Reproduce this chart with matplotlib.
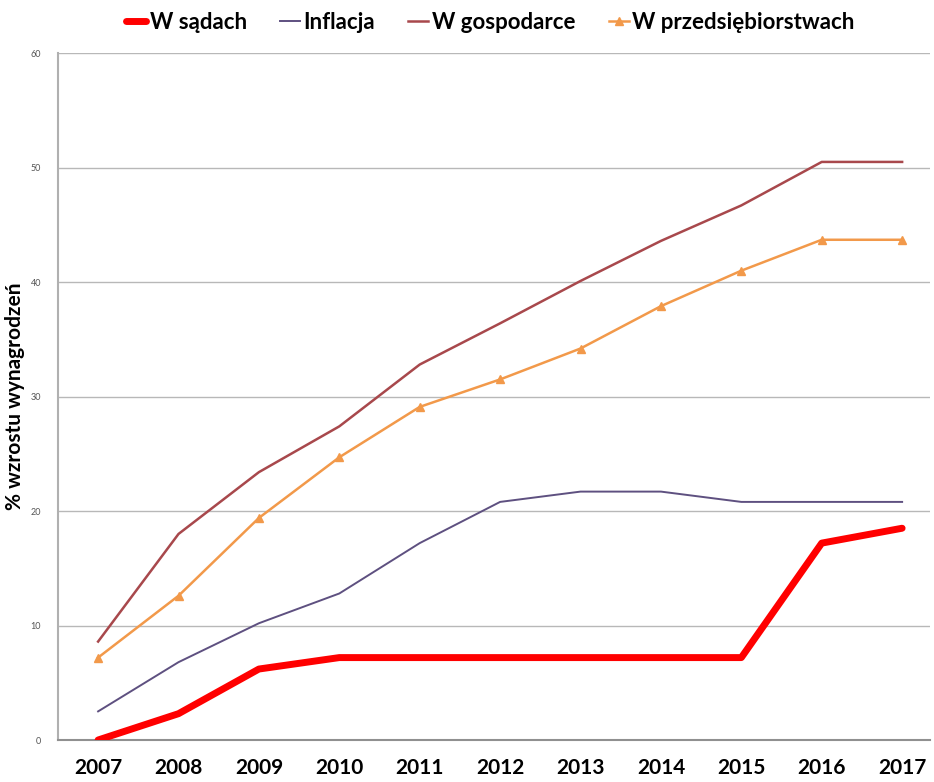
import matplotlib.pyplot as plt

years = [2007, 2008, 2009, 2010, 2011, 2012, 2013, 2014, 2015, 2016, 2017]
sady = [0.0, 2.3, 6.2, 7.2, 7.2, 7.2, 7.2, 7.2, 7.2, 17.2, 18.5]
inflacja = [2.5, 6.8, 10.2, 12.8, 17.2, 20.8, 21.7, 21.7, 20.8, 20.8, 20.8]
gospodarka = [8.6, 18.0, 23.4, 27.4, 32.8, 36.4, 40.1, 43.6, 46.7, 50.5, 50.5]
przedsiebiorstwa = [7.2, 12.6, 19.4, 24.7, 29.1, 31.5, 34.2, 37.9, 41.0, 43.7, 43.7]
yticks = [0, 10, 20, 30, 40, 50, 60]

plt.rcParams['font.family'] = ['Lato', 'DejaVu Sans']

fig = plt.figure(figsize=(9.34, 7.82), dpi=100)
ax = fig.add_axes([0.062, 0.0537, 0.934, 0.8783])

ax.plot(years, sady, color='#ff0000', lw=5, solid_capstyle='round', label='W sądach', zorder=5)
ax.plot(years, inflacja, color='#5e5080', lw=1.4, label='Inflacja', zorder=4)
ax.plot(years, gospodarka, color='#a8484c', lw=1.8, label='W gospodarce', zorder=4)
ax.plot(years, przedsiebiorstwa, color='#f2994a', lw=1.8, marker='^', ms=6,
        label='W przedsiębiorstwach', zorder=4)

ax.set_xlim(2006.5, 2017.35)
ax.set_ylim(0, 60)
ax.set_yticks(yticks)
ax.set_xticks(years)
ax.set_xticklabels([str(y) for y in years], fontsize=15, fontweight='bold')
ax.tick_params(axis='x', length=0, pad=13)
ax.tick_params(axis='y', length=0, labelsize=6.5, labelcolor='#555555', pad=12)
ax.grid(axis='y', color='#b8b8b8', lw=1)
ax.set_axisbelow(True)
for s in ['top', 'right']:
    ax.spines[s].set_visible(False)
ax.spines['left'].set_color('#b0b0b0')
ax.spines['left'].set_linewidth(1.5)
ax.spines['bottom'].set_color('#909090')
ax.spines['bottom'].set_linewidth(1.5)

ax.set_ylabel('% wzrostu wynagrodzeń', fontsize=15, fontweight='bold', labelpad=4)

fig.legend(loc='upper center', bbox_to_anchor=(0.525, 1.01), ncol=4, frameon=False,
           prop={'size': 16, 'weight': 'bold'}, handlelength=0.9, handletextpad=0.15,
           columnspacing=1.5)

fig.savefig('out.png', dpi=100)
